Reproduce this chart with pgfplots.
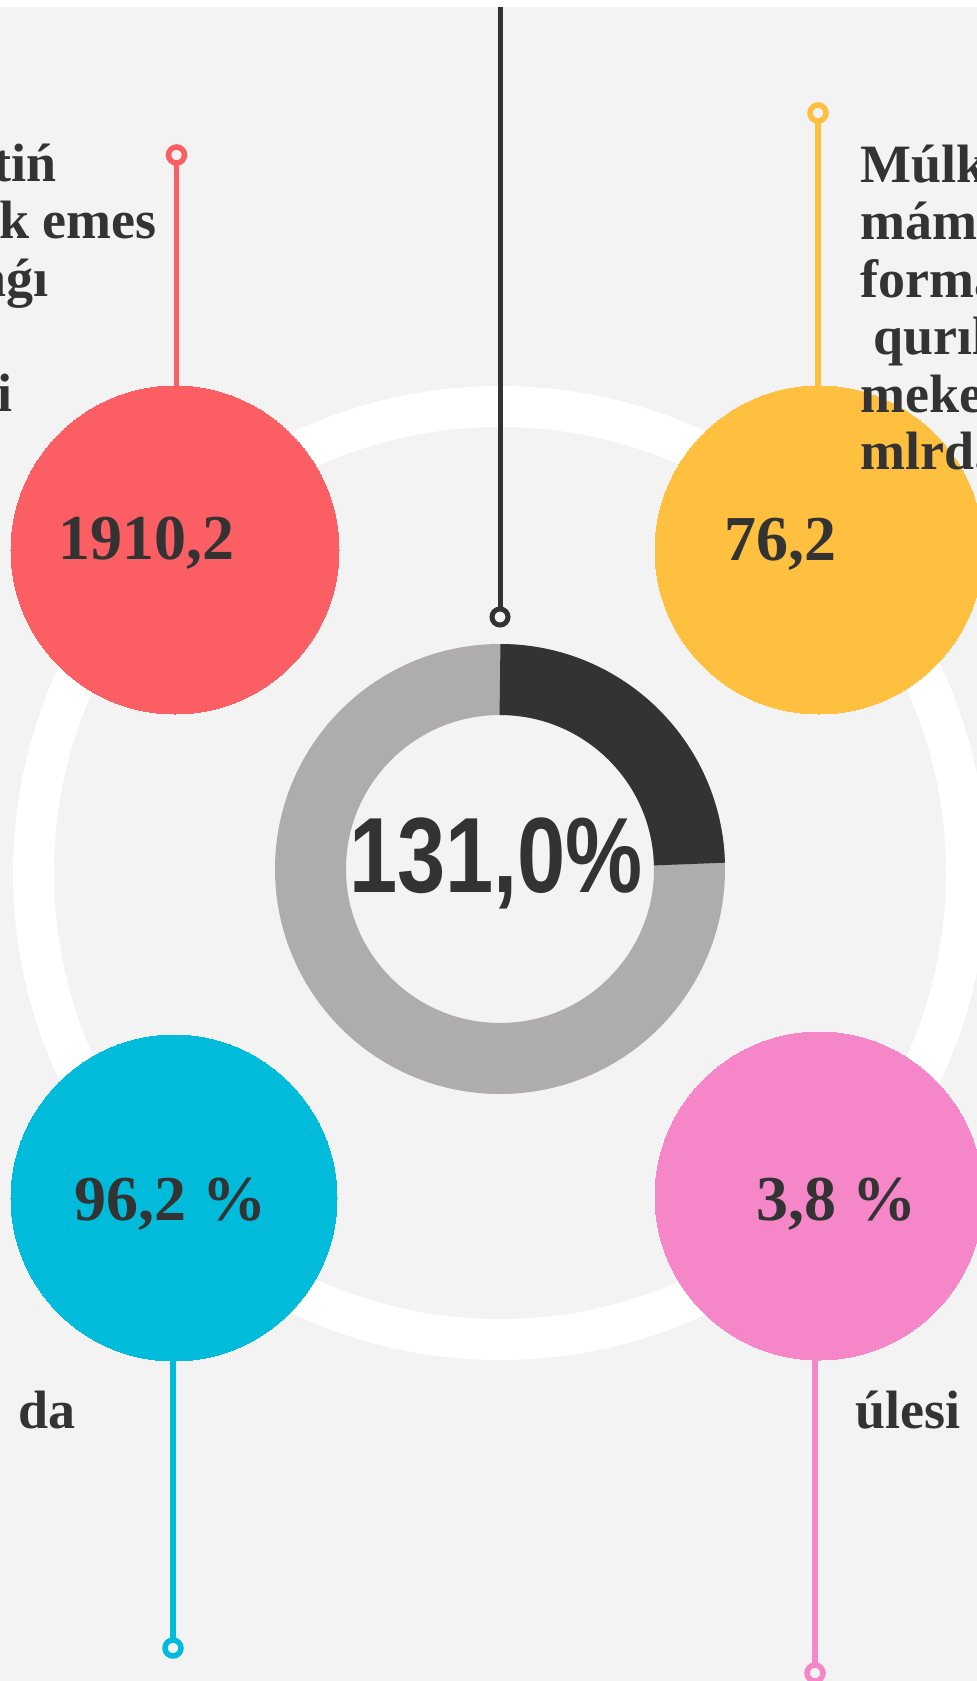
\documentclass[border=0pt]{standalone}
\usepackage{pgfplots}
\pgfplotsset{compat=1.18}
\usepackage{fontspec}
\setmainfont{Liberation Serif}
\newfontfamily\numsans{Liberation Sans}
\definecolor{bgc}{HTML}{F3F3F3}
\definecolor{darkc}{HTML}{333333}
\definecolor{grayc}{HTML}{AEACAC}
\definecolor{redc}{HTML}{FC5F63}
\definecolor{yelc}{HTML}{FFBF3F}
\definecolor{cyanc}{HTML}{00BCDA}
\definecolor{pinkc}{HTML}{F587C8}
\begin{document}
\begin{tikzpicture}
\useasboundingbox (0,0) rectangle (977pt,1681pt);
\clip (0,0) rectangle (977pt,1681pt);
\begin{axis}[at={(0,0)}, anchor=south west, width=977pt, height=1681pt, scale only axis,
  xmin=0, xmax=977, ymin=0, ymax=1681, y dir=reverse, hide axis, clip=false,
  clip marker paths=true]
% background
\fill[white] (axis cs:0,0) rectangle (axis cs:977,7);
\fill[bgc] (axis cs:0,7) rectangle (axis cs:977,1681);
% big white ring
\addplot[only marks, mark=o, mark size=466.5pt, mark options={draw=white, line width=41pt}] coordinates {(500,873)};
% connector lines
\addplot[darkc, line width=5pt] coordinates {(500,7) (500,617)};
\addplot[redc, line width=5.5pt] coordinates {(176.5,155) (176.5,550)};
\addplot[yelc, line width=5.5pt] coordinates {(818,113) (818,550)};
\addplot[cyanc, line width=5.5pt] coordinates {(173,1198) (173,1648)};
\addplot[pinkc, line width=5.5pt] coordinates {(815,1196) (815,1673)};
% coloured circles
\addplot[only marks, mark=*, mark size=164pt, mark options={draw=redc, fill=redc, line width=0pt}] coordinates {(175,550)};
\addplot[only marks, mark=*, mark size=164pt, mark options={draw=yelc, fill=yelc, line width=0pt}] coordinates {(819,550)};
\addplot[only marks, mark=*, mark size=163pt, mark options={draw=cyanc, fill=cyanc, line width=0pt}] coordinates {(174,1198)};
\addplot[only marks, mark=*, mark size=164pt, mark options={draw=pinkc, fill=pinkc, line width=0pt}] coordinates {(819,1196)};
% small end rings
\addplot[only marks, mark=*, mark size=8pt, mark options={draw=darkc, fill=bgc, line width=5pt}] coordinates {(500,617)};
\addplot[only marks, mark=*, mark size=8pt, mark options={draw=redc, fill=bgc, line width=5.5pt}] coordinates {(176.5,155)};
\addplot[only marks, mark=*, mark size=8pt, mark options={draw=yelc, fill=bgc, line width=5.5pt}] coordinates {(818,113)};
\addplot[only marks, mark=*, mark size=8pt, mark options={draw=cyanc, fill=bgc, line width=5.5pt}] coordinates {(173,1648)};
\addplot[only marks, mark=*, mark size=8pt, mark options={draw=pinkc, fill=bgc, line width=5.5pt}] coordinates {(815,1673)};
% donut
\addplot[only marks, mark=o, mark size=189.5pt, mark options={draw=grayc, line width=71pt}] coordinates {(500,869)};
\draw[darkc, line width=71pt] (axis cs:500,869) ++(90:189.5pt) arc[start angle=90, end angle=1.5, radius=189.5pt];
% centre value
\node[anchor=base, inner sep=0pt, text=darkc, font=\numsans\bfseries\fontsize{107}{107}\selectfont] at (axis cs:496,892) {\scalebox{0.81}[1]{131,0\%}};
% circle values
\begin{scope}[every node/.style={inner sep=0pt, text=darkc, font=\bfseries\fontsize{64}{64}\selectfont}]
\node[anchor=base west] at (axis cs:58,559) {1910,2};
\node[anchor=base west] at (axis cs:724,560) {76,2};
\node[anchor=base west] at (axis cs:74,1220) {96,2 \%};
\node[anchor=base west] at (axis cs:756,1220) {3,8 \%};
\end{scope}
% side texts
\begin{scope}[every node/.style={inner sep=0pt, text=darkc, font=\bfseries\fontsize{54}{57.5}\selectfont}]
\node[anchor=base east] at (axis cs:57,181) {tiń};
\node[anchor=base east] at (axis cs:157,238.5) {k emes};
\node[anchor=base east] at (axis cs:49,296) {aǵı};
\node[anchor=base east] at (axis cs:13,411) {i};
\node[anchor=base west] at (axis cs:860,182) {Múlk};
\node[anchor=base west] at (axis cs:860,239.5) {mámi};
\node[anchor=base west] at (axis cs:860,297) {forma};
\node[anchor=base west] at (axis cs:873,354.5) {qurıl};
\node[anchor=base west] at (axis cs:860,412) {meke};
\node[anchor=base west] at (axis cs:860,469.5) {mlrd.};
\node[anchor=base east] at (axis cs:76,1428) {\% da};
\node[anchor=base west] at (axis cs:855,1428) {úlesi \%};
\end{scope}
\end{axis}
\end{tikzpicture}
\end{document}
